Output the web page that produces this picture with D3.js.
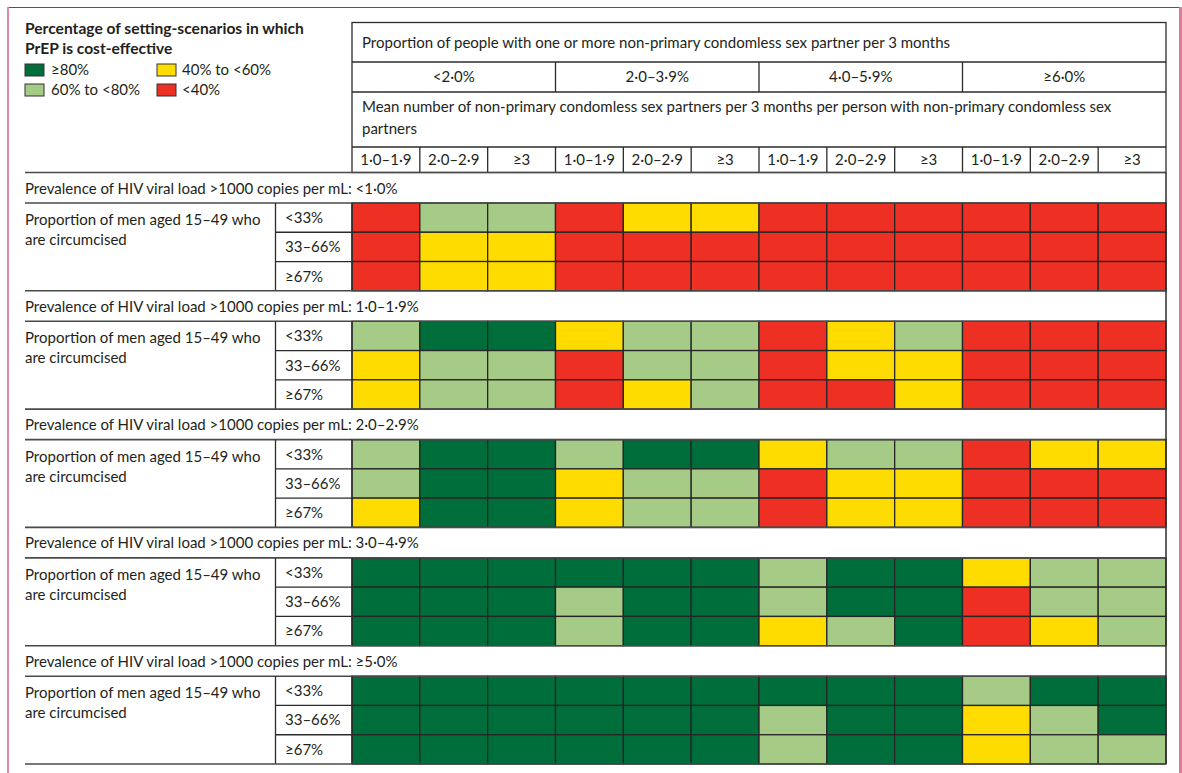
<!DOCTYPE html>
<html>
<head>
<meta charset="utf-8">
<script src="https://cdn.jsdelivr.net/npm/d3@7"></script>
<style>
  body { margin: 0; background: #fff; }
  text { font-family: "Lato", "Noto Sans", sans-serif; fill: #231f20; font-size: 15px; }
</style>
</head>
<body>
<div id="chart"></div>
<script>
// legend categories (share of setting-scenarios in which PrEP is cost-effective)
var categories = ["≥80%", "60% to <80%", "40% to <60%", "<40%"];
var categoryColors = ["#006e3b", "#a6cb87", "#ffdc00", "#ee2f24"];
var categoryCodes = ["D", "L", "Y", "R"];

// column headers
var proportionGroups = ["<2·0%", "2·0–3·9%", "4·0–5·9%", "≥6·0%"];
var partnerLevels = ["1·0–1·9", "2·0–2·9", "≥3"];

// row headers
var prevalenceLevels = ["<1·0%", "1·0–1·9%", "2·0–2·9%", "3·0–4·9%", "≥5·0%"];
var circumcisionLevels = ["<33%", "33–66%", "≥67%"];

// cell categories, one string per circumcision level, 12 columns each
var cellsPrev1 = ["RLLRYYRRRRRR", "RYYRRRRRRRRR", "RYYRRRRRRRRR"];
var cellsPrev2 = ["LDDYLLRYLRRR", "YLLRLLRYYRRR", "YLLRYLRRYRRR"];
var cellsPrev3 = ["LDDLDDYLLRYY", "LDDYLLRYYRRR", "YDDYLLRYYRRR"];
var cellsPrev4 = ["DDDDDDLDDYLL", "DDDLDDLDDRLL", "DDDLDDYLDRYL"];
var cellsPrev5 = ["DDDDDDDDDLDD", "DDDDDDLDDYLD", "DDDDDDLDDYLL"];
var allCells = [cellsPrev1, cellsPrev2, cellsPrev3, cellsPrev4, cellsPrev5];

function init(){
    var w = 1182;
    var h = 773;

    var svg = d3.select("#chart")
                .append("svg")
                .attr("width", w)
                .attr("height", h);

    var color = d3.scaleOrdinal()
                  .domain(categoryCodes)
                  .range(categoryColors);

    // columns of the grid
    var columns = [];
    proportionGroups.forEach(function(g){
        partnerLevels.forEach(function(p){ columns.push(g + "|" + p); });
    });
    var xScale = d3.scaleBand()
                   .domain(columns)
                   .range([352, 1166]);
    var groupScale = d3.scaleBand()
                       .domain(proportionGroups)
                       .range([352, 1166]);

    // sections, one per prevalence level
    var secScale = d3.scaleBand()
                     .domain(prevalenceLevels)
                     .range([172.5, 764]);
    var prevRowH = 30.5;
    function rowScale(prev){
        return d3.scaleBand()
                 .domain(circumcisionLevels)
                 .range([secScale(prev) + prevRowH, secScale(prev) + secScale.bandwidth()]);
    }

    // outer frame
    svg.append("line").attr("x1", 8).attr("x2", 1181).attr("y1", 7.5).attr("y2", 7.5)
       .attr("stroke", "#b7264c").attr("stroke-width", 1.2);
    svg.append("line").attr("x1", 8).attr("x2", 8).attr("y1", 7).attr("y2", h)
       .attr("stroke", "#de8aa0").attr("stroke-width", 2);
    svg.append("line").attr("x1", 1180.5).attr("x2", 1180.5).attr("y1", 7).attr("y2", h)
       .attr("stroke", "#d97d97").attr("stroke-width", 3);

    // legend
    svg.append("text").attr("x", 25).attr("y", 34)
       .style("font-weight", "bold").style("font-size", "15.6px")
       .text("Percentage of setting-scenarios in which");
    svg.append("text").attr("x", 25).attr("y", 54)
       .style("font-weight", "bold").style("font-size", "15.6px")
       .text("PrEP is cost-effective");

    var legend = svg.selectAll("g.legend")
                    .data(categories)
                    .enter()
                    .append("g")
                    .attr("class", "legend")
                    .attr("transform", function(d, i){
                        return "translate(" + (i < 2 ? 25 : 157) + "," + (64 + (i % 2) * 20) + ")";
                    });
    legend.append("rect")
          .attr("width", 19).attr("height", 12)
          .attr("fill", function(d, i){ return categoryColors[i]; })
          .attr("stroke", "#333").attr("stroke-width", 1);
    legend.append("text")
          .attr("x", function(d, i){ return i < 2 ? 26 : 25; })
          .attr("y", 11)
          .text(function(d){ return d; });

    // header table
    var head = svg.append("g");
    var hStroke = "#2b2b2b";
    head.append("rect").attr("x", 352).attr("y", 22.5).attr("width", 814).attr("height", 150)
        .attr("fill", "none").attr("stroke", hStroke).attr("stroke-width", 1.3);
    [62, 92, 147].forEach(function(y){
        head.append("line").attr("x1", 352).attr("x2", 1166).attr("y1", y).attr("y2", y)
            .attr("stroke", hStroke).attr("stroke-width", 1.3);
    });
    head.append("text").attr("x", 362).attr("y", 48)
        .text("Proportion of people with one or more non-primary condomless sex partner per 3 months");

    head.selectAll("line.group")
        .data(proportionGroups.slice(1))
        .enter()
        .append("line")
        .attr("x1", function(d){ return groupScale(d); })
        .attr("x2", function(d){ return groupScale(d); })
        .attr("y1", 62).attr("y2", 92)
        .attr("stroke", hStroke).attr("stroke-width", 1.3);
    head.selectAll("text.group")
        .data(proportionGroups)
        .enter()
        .append("text")
        .attr("text-anchor", "middle")
        .attr("x", function(d){ return groupScale(d) + groupScale.bandwidth() / 2; })
        .attr("y", 82)
        .text(function(d){ return d; });

    head.append("text").attr("x", 362).attr("y", 112)
        .text("Mean number of non-primary condomless sex partners per 3 months per person with non-primary condomless sex");
    head.append("text").attr("x", 362).attr("y", 134)
        .text("partners");

    head.selectAll("line.col")
        .data(columns.slice(1))
        .enter()
        .append("line")
        .attr("x1", function(d){ return xScale(d); })
        .attr("x2", function(d){ return xScale(d); })
        .attr("y1", 147).attr("y2", 172.5)
        .attr("stroke", hStroke).attr("stroke-width", 1.3);
    head.selectAll("text.col")
        .data(columns)
        .enter()
        .append("text")
        .attr("text-anchor", "middle")
        .attr("x", function(d){ return xScale(d) + xScale.bandwidth() / 2; })
        .attr("y", 165)
        .text(function(d){ return d.split("|")[1]; });

    // sections
    var lineColor = "#4a4a4a";
    prevalenceLevels.forEach(function(prev, s){
        var top = secScale(prev);
        var yRow = rowScale(prev);
        var sec = svg.append("g");

        // colored cells
        var cells = [];
        circumcisionLevels.forEach(function(c, r){
            columns.forEach(function(col, k){
                cells.push({ row: c, col: col, code: allCells[s][r][k] });
            });
        });
        sec.selectAll("rect")
           .data(cells)
           .enter()
           .append("rect")
           .attr("x", function(d){ return xScale(d.col); })
           .attr("y", function(d){ return yRow(d.row); })
           .attr("width", xScale.bandwidth())
           .attr("height", yRow.bandwidth())
           .attr("fill", function(d){ return color(d.code); })
           .attr("stroke", "#262626")
           .attr("stroke-width", 1.3);

        // rules
        sec.append("line").attr("x1", 25).attr("x2", 1166).attr("y1", top).attr("y2", top)
           .attr("stroke", lineColor).attr("stroke-width", 1.6);
        sec.append("line").attr("x1", 25).attr("x2", 1166).attr("y1", top + prevRowH).attr("y2", top + prevRowH)
           .attr("stroke", lineColor).attr("stroke-width", 1.6);
        sec.append("line").attr("x1", 1166).attr("x2", 1166).attr("y1", top).attr("y2", top + secScale.bandwidth())
           .attr("stroke", "#2b2b2b").attr("stroke-width", 1.5);
        circumcisionLevels.slice(1).forEach(function(c){
            sec.append("line").attr("x1", 275.5).attr("x2", 352).attr("y1", yRow(c)).attr("y2", yRow(c))
               .attr("stroke", "#2b2b2b").attr("stroke-width", 1.3);
        });
        [275.5, 352].forEach(function(x){
            sec.append("line").attr("x1", x).attr("x2", x)
               .attr("y1", top + prevRowH).attr("y2", top + secScale.bandwidth())
               .attr("stroke", "#2b2b2b").attr("stroke-width", 1.3);
        });

        // labels
        sec.append("text").attr("x", 25).attr("y", top + 21)
           .text("Prevalence of HIV viral load >1000 copies per mL: " + prev);
        sec.append("text").attr("x", 25).attr("y", top + prevRowH + 22)
           .text("Proportion of men aged 15–49 who");
        sec.append("text").attr("x", 25).attr("y", top + prevRowH + 42)
           .text("are circumcised");
        sec.selectAll("text.circ")
           .data(circumcisionLevels)
           .enter()
           .append("text")
           .attr("x", 285)
           .attr("y", function(d){ return yRow(d) + 20; })
           .text(function(d){ return d; });
    });

    // bottom rule
    svg.append("line").attr("x1", 25).attr("x2", 1166).attr("y1", 764).attr("y2", 764)
       .attr("stroke", lineColor).attr("stroke-width", 1.6);
}

window.onload = init;
</script>
</body>
</html>
